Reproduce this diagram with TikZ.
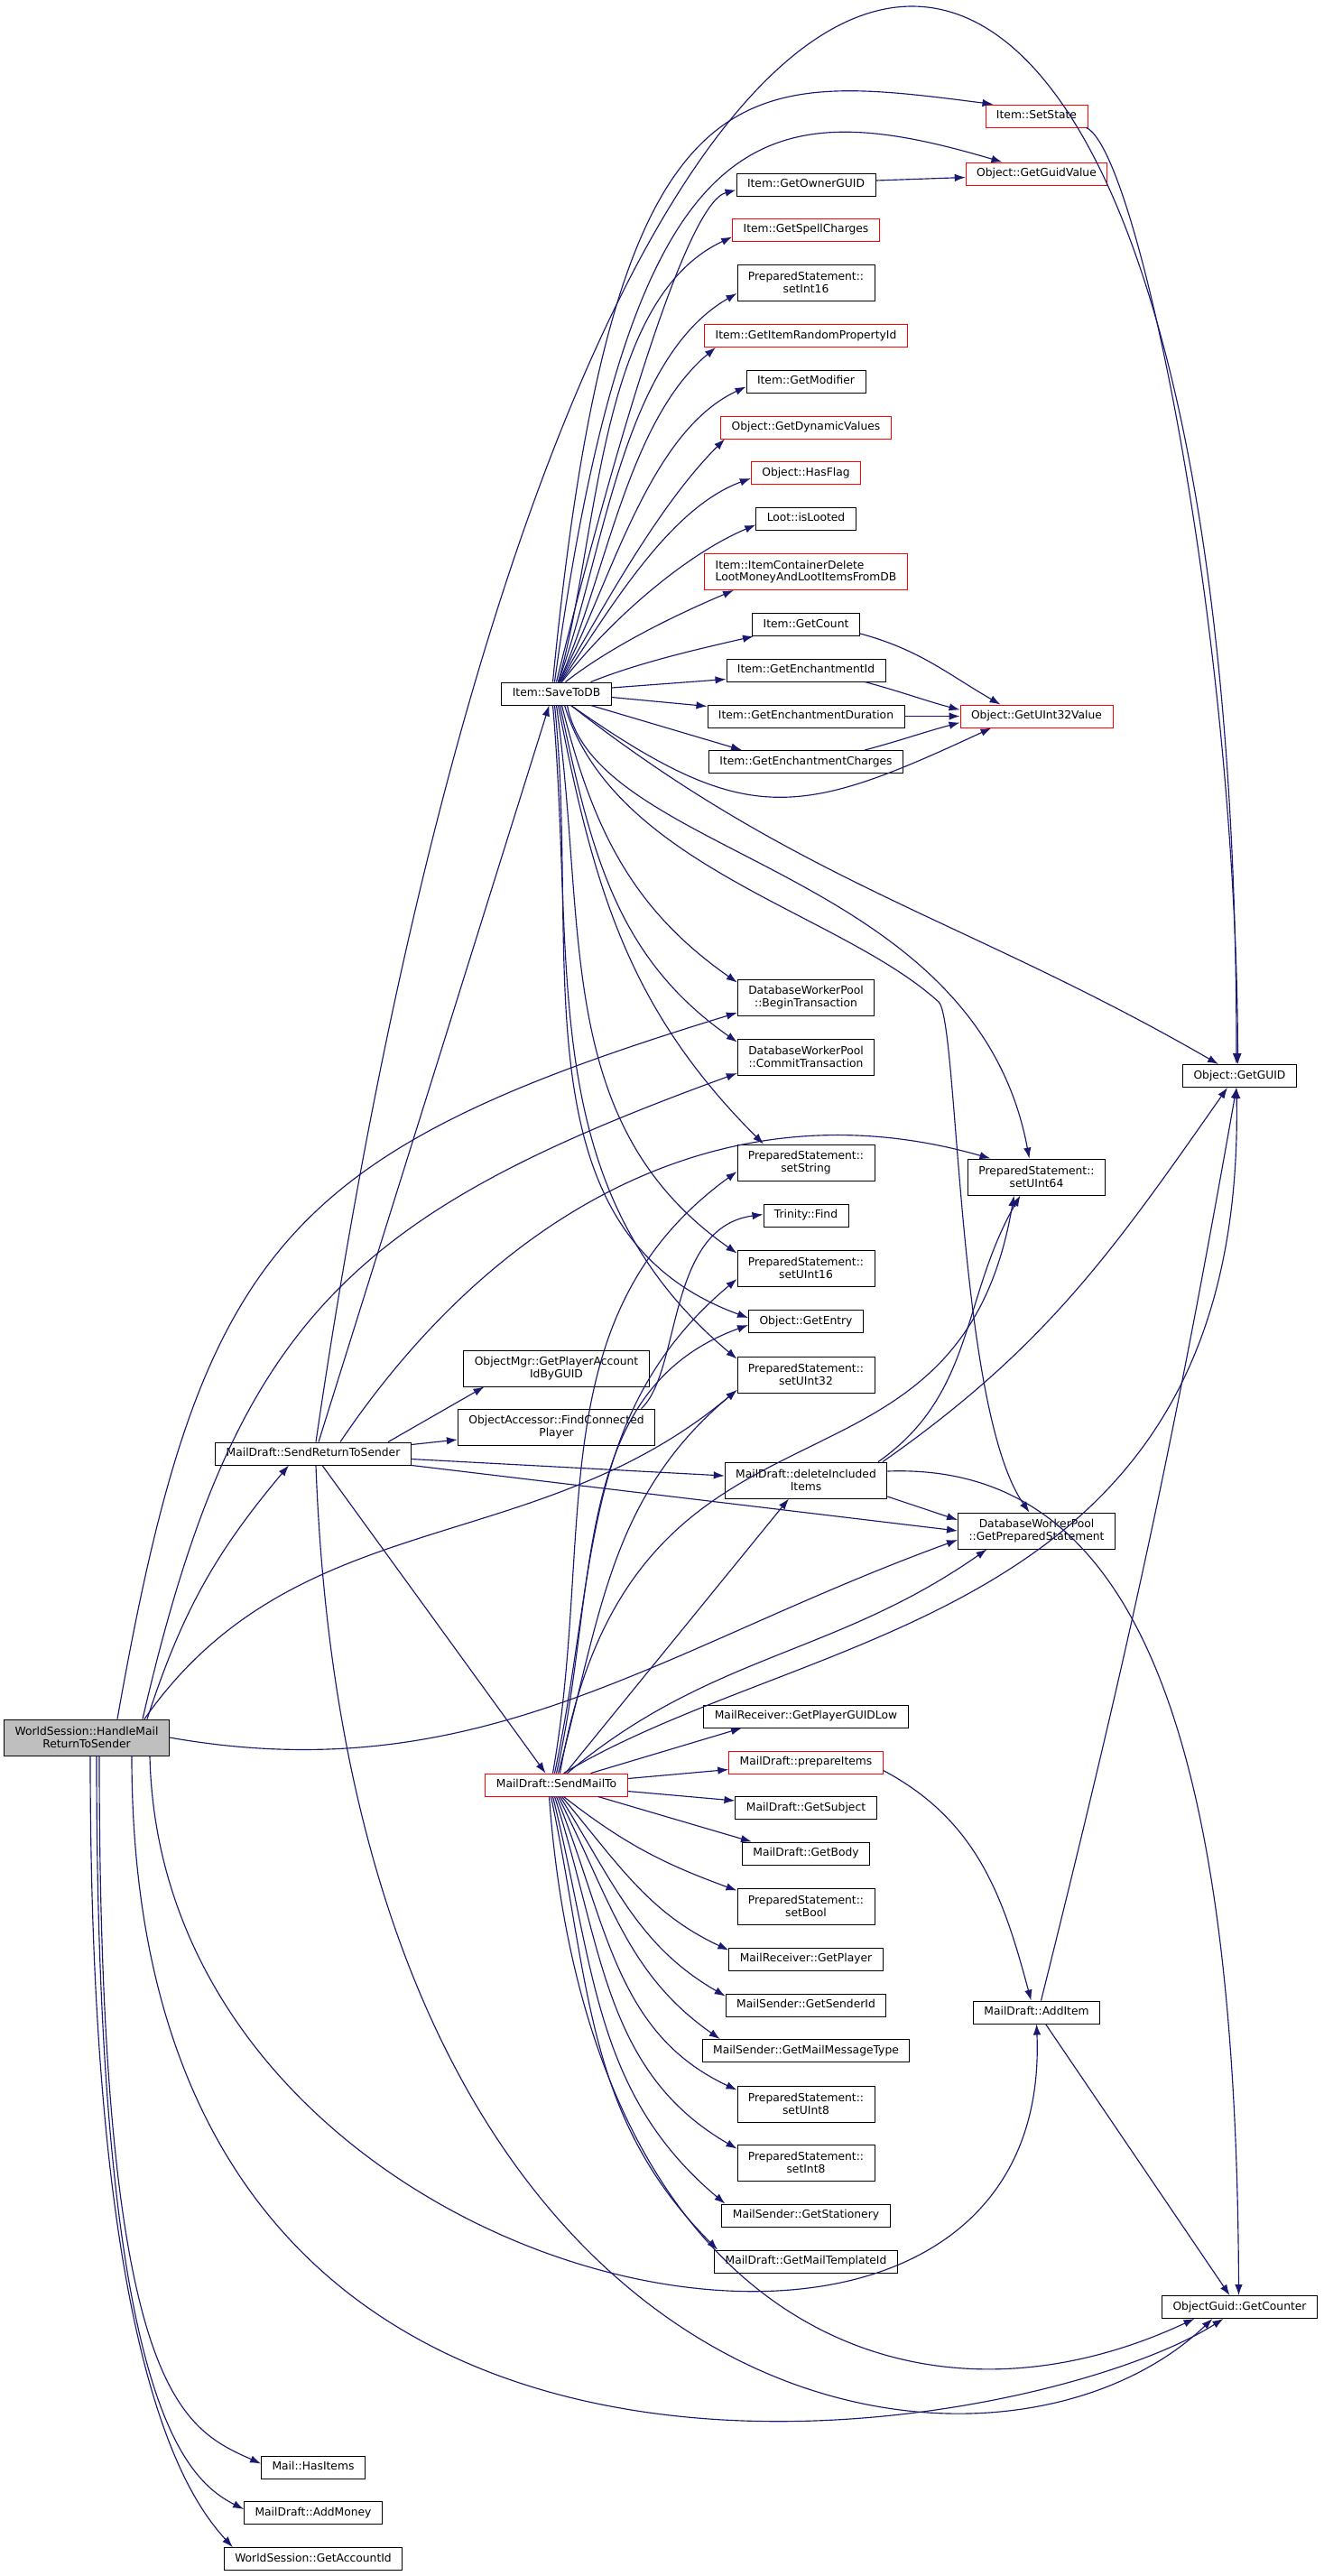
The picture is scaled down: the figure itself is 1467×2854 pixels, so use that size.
\documentclass[tikz,border=0pt]{standalone}
\usepackage{fontspec}
\setmainfont{DejaVu Sans}
\usepackage{tikz}
\usetikzlibrary{arrows.meta}
\definecolor{edgeblue}{HTML}{191970}
\definecolor{rootgray}{HTML}{BFBFBF}
\definecolor{nodered}{HTML}{FF0000}
\newcommand{\fnfont}{\fontsize{12.3}{13.7}\selectfont}
\tikzset{>=latex}
\tikzset{
  fn/.style={draw=black, line width=0.9pt, fill=white, inner xsep=12pt, inner ysep=0pt,
    minimum height=25pt, text height=9.3pt, text depth=2.7pt, font=\fnfont},
  fntwo/.style={draw=black, line width=0.9pt, fill=white, inner xsep=12pt, inner ysep=0pt,
    minimum height=40pt, align=center, font=\fnfont},
  hot/.style={draw=nodered},
  call/.style={draw=edgeblue, line width=1.15pt, -{Latex[length=12pt,width=8.5pt]}}
}

\begin{document}
\begin{tikzpicture}[x=1pt, y=1pt]
\fill[white] (0,0) rectangle (1467,-2854);
\useasboundingbox (0,0) rectangle (1467,-2854);

% caller and its first level
\node[fntwo, fill=rootgray] (root) at (96,-1925) {WorldSession::HandleMail\\ReturnToSender};
\node[fn] (srts) at (347,-1610.5) {MailDraft::SendReturnToSender};
\node[fn] (hasitems) at (347,-2733.5) {Mail::HasItems};
\node[fn] (addmoney) at (347,-2784) {MailDraft::AddMoney};
\node[fn] (getaccountid) at (347,-2835) {WorldSession::GetAccountId};

% second column
\node[fn] (savetodb) at (616.5,-768.5) {Item::SaveToDB};
\node[fntwo] (objmgr) at (616.5,-1516) {ObjectMgr::GetPlayerAccount\\IdByGUID};
\node[fntwo] (findplayer) at (616.5,-1581) {ObjectAccessor::FindConnected\\Player};
\node[fn, hot] (sendmailto) at (616.5,-1977.5) {MailDraft::SendMailTo};

% third column
\node[fn] (getownerguid) at (893,-204.5) {Item::GetOwnerGUID};
\node[fn, hot] (getspellcharges) at (893,-254.5) {Item::GetSpellCharges};
\node[fntwo] (setint16) at (893,-313) {PreparedStatement::\\setInt16};
\node[fn, hot] (getrandomprop) at (893,-372) {Item::GetItemRandomPropertyId};
\node[fn] (getmodifier) at (893,-422.5) {Item::GetModifier};
\node[fn, hot] (getdynvalues) at (893,-473.5) {Object::GetDynamicValues};
\node[fn, hot] (hasflag) at (893,-524) {Object::HasFlag};
\node[fn] (islooted) at (893,-574.5) {Loot::isLooted};
\node[fntwo, hot, align=left] (containerdelete) at (893,-633.5) {Item::ItemContainerDelete\\LootMoneyAndLootItemsFromDB};
\node[fn] (getcount) at (893,-692) {Item::GetCount};
\node[fn] (getenchid) at (893,-742.5) {Item::GetEnchantmentId};
\node[fn] (getenchdur) at (893,-793.5) {Item::GetEnchantmentDuration};
\node[fn] (getenchcharges) at (893,-844) {Item::GetEnchantmentCharges};
\node[fntwo] (begintrans) at (893,-1105) {DatabaseWorkerPool\\::BeginTransaction};
\node[fntwo] (committrans) at (893,-1171) {DatabaseWorkerPool\\::CommitTransaction};
\node[fntwo] (setstring) at (893,-1288) {PreparedStatement::\\setString};
\node[fn] (trinityfind) at (893,-1346.5) {Trinity::Find};
\node[fntwo] (setuint16) at (893,-1405) {PreparedStatement::\\setUInt16};
\node[fn] (getentry) at (893,-1464) {Object::GetEntry};
\node[fntwo] (setuint32) at (893,-1523) {PreparedStatement::\\setUInt32};
\node[fntwo] (deleteitems) at (893,-1640) {MailDraft::deleteIncluded\\Items};
\node[fn] (getguidlow) at (893,-1901.5) {MailReceiver::GetPlayerGUIDLow};
\node[fn, hot] (prepareitems) at (893,-1952.5) {MailDraft::prepareItems};
\node[fn] (getsubject) at (893,-2003) {MailDraft::GetSubject};
\node[fn] (getbody) at (893,-2053.5) {MailDraft::GetBody};
\node[fntwo] (setbool) at (893,-2112) {PreparedStatement::\\setBool};
\node[fn] (getplayer) at (893,-2170.5) {MailReceiver::GetPlayer};
\node[fn] (getsenderid) at (893,-2221.5) {MailSender::GetSenderId};
\node[fn] (getmsgtype) at (893,-2272) {MailSender::GetMailMessageType};
\node[fntwo] (setuint8) at (893,-2331) {PreparedStatement::\\setUInt8};
\node[fntwo] (setint8) at (893,-2396) {PreparedStatement::\\setInt8};
\node[fn] (getstationery) at (893,-2454.5) {MailSender::GetStationery};
\node[fn] (gettemplateid) at (893,-2505.5) {MailDraft::GetMailTemplateId};

% fourth column
\node[fn, hot] (setstate) at (1148.5,-128.5) {Item::SetState};
\node[fn, hot] (getguidvalue) at (1148.5,-192.5) {Object::GetGuidValue};
\node[fn, hot] (getuint32) at (1148.5,-793.5) {Object::GetUInt32Value};
\node[fntwo] (setuint64) at (1148.5,-1304) {PreparedStatement::\\setUInt64};
\node[fntwo] (getprepared) at (1148.5,-1696) {DatabaseWorkerPool\\::GetPreparedStatement};
\node[fn] (additem) at (1148.5,-2229.5) {MailDraft::AddItem};

% last column
\node[fn] (getguid) at (1373.5,-1192) {Object::GetGUID};
\node[fn] (getcounter) at (1373.5,-2556) {ObjectGuid::GetCounter};

% calls of the caller
\draw[call] ([xshift=67pt]root.north) to[out=72,in=-130] ([xshift=-27pt]srts.south);
\draw[call] ([xshift=34pt]root.north) to[out=80,in=197,looseness=1.3] ([yshift=-17pt]begintrans.west);
\draw[call] ([xshift=62pt]root.north) to[out=77,in=200,looseness=1.2] ([yshift=-18pt]committrans.west);
\draw[call] ([xshift=64pt]root.north) to[out=55,in=220] ([yshift=-17pt]setuint32.west);
\draw[call] (root.east) to[out=-10,in=200] ([yshift=-10pt]getprepared.west);
\draw[call] ([xshift=70pt]root.south) .. controls +(14,-605) and +(21,-518) .. (additem.south);
\draw[call] ([xshift=50pt]root.south) .. controls +(0,-955) and +(-205,-131) .. ([xshift=-18pt]getcounter.south);
\draw[call] ([xshift=14pt]root.south) .. controls +(0,-705) and +(-89,40) .. ([yshift=4pt]hasitems.west);
\draw[call] ([xshift=11pt]root.south) .. controls +(0,-705) and +(-69,35) .. ([yshift=4pt]addmoney.west);
\draw[call] ([xshift=4pt]root.south) .. controls +(0,-655) and +(-57,62) .. ([xshift=10pt]getaccountid.north west);

% calls of SendReturnToSender
\draw[call] ([xshift=3pt]srts.north) .. controls +(300,2043) and +(0,1624) .. ([xshift=-3.5pt]getguid.north);
\draw[call] ([xshift=6pt]srts.north) -- ([xshift=-8pt]savetodb.south);
\draw[call] ([xshift=30pt]srts.north) to[out=56,in=164] ([xshift=-51pt]setuint64.north);
\draw[call] ([xshift=83pt]srts.north) -- ([xshift=-80pt]objmgr.south);
\draw[call] ([yshift=10pt]srts.east) -- ([yshift=-14pt]findplayer.west);
\draw[call] ([yshift=-6pt]srts.east) -- ([yshift=5pt]deleteitems.west);
\draw[call] (srts.south east) -- (getprepared.west);
\draw[call] ([xshift=10pt]srts.south) -- ([xshift=-12pt]sendmailto.north);
\draw[call] ([xshift=3pt]srts.south) .. controls +(40,-1077) and +(-243,-231) .. ([xshift=-30pt]getcounter.south);

% calls of SaveToDB, upwards
\draw[call] ([xshift=-4pt]savetodb.north) .. controls +(67.5,696) and +(-280.5,36) .. ([xshift=-48pt]setstate.north);
\draw[call] ([xshift=-2pt]savetodb.north) .. controls +(85.5,626) and +(-270.5,80) .. ([xshift=-38pt]getguidvalue.north);
\draw[call] (savetodb.north) .. controls +(63.5,256) and +(-55.5,-14.5) .. ([yshift=-6pt]getownerguid.west);
\draw[call] ([xshift=2pt]savetodb.north) to[out=74,in=205,looseness=0.8] ([yshift=-8pt]getspellcharges.west);
\draw[call] ([xshift=2pt]savetodb.north) to[out=70,in=210,looseness=0.8] ([yshift=-12pt]setint16.west);
\draw[call] ([xshift=3pt]savetodb.north) to[out=66,in=220,looseness=0.8] ([xshift=-100pt]getrandomprop.south);
\draw[call] ([xshift=3pt]savetodb.north) to[out=62,in=205,looseness=0.8] ([yshift=-6pt]getmodifier.west);
\draw[call] ([xshift=4pt]savetodb.north) to[out=60,in=225,looseness=0.8] ([xshift=-90pt]getdynvalues.south);
\draw[call] ([xshift=5pt]savetodb.north) to[out=56,in=200,looseness=0.8] ([yshift=-6pt]hasflag.west);
\draw[call] ([xshift=6pt]savetodb.north) to[out=52,in=203,looseness=0.8] ([yshift=-7pt]islooted.west);
\draw[call] ([xshift=10pt]savetodb.north) to[out=38,in=203,looseness=0.8] ([xshift=-80pt]containerdelete.south);
\draw[call] ([xshift=38pt]savetodb.north) to[out=22,in=193,looseness=0.8] ([xshift=-58pt]getcount.south);
\draw[call] ([yshift=6.5pt]savetodb.east) -- ([yshift=-10pt]getenchid.west);
\draw[call] ([yshift=-4pt]savetodb.east) -- ([yshift=11pt]getenchdur.west);
\draw[call] ([xshift=38pt]savetodb.south) -- ([xshift=-71pt]getenchcharges.north);

% calls of SaveToDB, downwards
\draw[call] ([xshift=16pt]savetodb.south) to[out=-35,in=-155,looseness=1.3] ([xshift=-50pt]getuint32.south);
\draw[call] ([xshift=16pt]savetodb.south) to[out=-38,in=150] ([xshift=-23.5pt]getguid.north);
\draw[call] ([xshift=12pt]savetodb.south) .. controls +(31.5,-169) and +(-60.5,324) .. ([xshift=-8pt]setuint64.north);
\draw[call] ([xshift=9pt]savetodb.south) .. controls +(54.5,-179) and +(-110,100) .. (1040,-1110)
  .. controls +(22,-20) and +(-80.5,116) .. ([xshift=-8pt]getprepared.north);
\draw[call] ([xshift=6pt]savetodb.south) to[out=-76,in=145] ([yshift=-4pt]begintrans.north west);
\draw[call] ([xshift=4pt]savetodb.south) to[out=-78,in=145] ([yshift=-4pt]committrans.north west);
\draw[call] ([xshift=2pt]savetodb.south) to[out=-79,in=135] ([xshift=-47pt]setstring.north);
\draw[call] (savetodb.south) to[out=-82,in=145] ([yshift=-4pt]setuint16.north west);
\draw[call] ([xshift=-2pt]savetodb.south) to[out=-84,in=160] ([yshift=4pt]getentry.west);
\draw[call] ([xshift=-4pt]savetodb.south) to[out=-85,in=140] ([yshift=-3pt]setuint32.north west);

% calls of SendMailTo
\draw[call] ([xshift=-4pt]sendmailto.north) to[out=80,in=216] ([yshift=-10pt]setstring.west);
\draw[call] ([xshift=-2pt]sendmailto.north) to[out=78,in=220] ([yshift=-12pt]setuint16.west);
\draw[call] (sendmailto.north) to[out=77,in=200] ([yshift=-4pt]getentry.west);
\draw[call] ([xshift=2pt]sendmailto.north) to[out=75,in=220] ([yshift=-17pt]setuint32.west);
\draw[call] ([xshift=4pt]sendmailto.north) .. controls +(79.5,465) and +(-63.5,-376) .. ([xshift=-25pt]setuint64.south);
\draw[call] ([xshift=8pt]sendmailto.north) .. controls +(275.5,165) and +(10,-595) .. ([xshift=-3.5pt]getguid.south);
\draw[call] ([xshift=10pt]sendmailto.north) -- ([xshift=-19pt]deleteitems.south);
\draw[call] ([xshift=12pt]sendmailto.north) to[out=40,in=215] ([xshift=-55pt]getprepared.south);
\draw[call] ([xshift=38pt]sendmailto.north) -- ([xshift=-71pt]getguidlow.south);
\draw[call] ([yshift=7pt]sendmailto.east) -- ([yshift=-8pt]prepareitems.west);
\draw[call] ([yshift=-7pt]sendmailto.east) -- ([yshift=8pt]getsubject.west);
\draw[call] ([xshift=-33pt]sendmailto.south east) -- ([xshift=-60pt]getbody.north);
\draw[call] ([xshift=8pt]sendmailto.south) to[out=-38,in=160] ([yshift=-3pt]setbool.north west);
\draw[call] ([xshift=6pt]sendmailto.south) to[out=-50,in=155] ([yshift=-3pt]getplayer.north west);
\draw[call] ([xshift=4pt]sendmailto.south) to[out=-58,in=150] ([yshift=-3pt]getsenderid.north west);
\draw[call] ([xshift=2pt]sendmailto.south) to[out=-63,in=145] ([xshift=20pt]getmsgtype.north west);
\draw[call] (sendmailto.south) to[out=-68,in=155] ([yshift=-5pt]setuint8.north west);
\draw[call] ([xshift=-2pt]sendmailto.south) to[out=-72,in=150] ([yshift=-5pt]setint8.north west);
\draw[call] ([xshift=-4pt]sendmailto.south) to[out=-76,in=140] ([xshift=4pt]getstationery.north west);
\draw[call] ([xshift=-6pt]sendmailto.south) to[out=-78,in=135] ([xshift=4pt]gettemplateid.north west);
\draw[call] ([xshift=-8pt]sendmailto.south) .. controls +(41.5,-570) and +(-323.5,-151) .. ([xshift=-50pt]getcounter.south);

% remaining calls
\draw[call] ([yshift=4.5pt]getownerguid.east) -- ([yshift=-4pt]getguidvalue.west);
\draw[call] ([xshift=55pt]setstate.south) .. controls +(56.5,-24) and +(-1.5,479) .. ([xshift=-2pt]getguid.north);
\draw[call] ([yshift=3pt]getcount.south east) to[out=-15,in=150] ([xshift=-40pt]getuint32.north);
\draw[call] ([xshift=65pt]getenchid.south) to[out=-15,in=165] ([yshift=7pt]getuint32.west);
\draw[call] (getenchdur.east) -- (getuint32.west);
\draw[call] ([xshift=65pt]getenchcharges.north) to[out=15,in=195] ([yshift=-7pt]getuint32.west);
\draw[call] ([xshift=94pt]findplayer.north) .. controls +(44.5,41) and +(-107.4,-14) .. ([yshift=1pt]trinityfind.west);
\draw[call] ([yshift=-9pt]prepareitems.east) to[out=-28,in=105] ([xshift=-6pt]additem.north);
\draw[call] ([xshift=80pt]deleteitems.north) to[out=35,in=-120] ([xshift=-18pt]setuint64.south);
\draw[call] ([xshift=85pt]deleteitems.north) to[out=35,in=-125] ([xshift=-13.5pt]getguid.south);
\draw[call] ([yshift=-18pt]deleteitems.east) -- ([yshift=12pt]getprepared.west);
\draw[call] ([yshift=10pt]deleteitems.east) .. controls +(267,10) and +(-2.5,643) .. ([xshift=-1pt]getcounter.north);
\draw[call] ([xshift=5pt]additem.north) to[out=76,in=-100] ([xshift=-3.5pt]getguid.south);
\draw[call] ([xshift=10pt]additem.south) -- ([xshift=-11pt]getcounter.north);

\end{tikzpicture}
\end{document}
